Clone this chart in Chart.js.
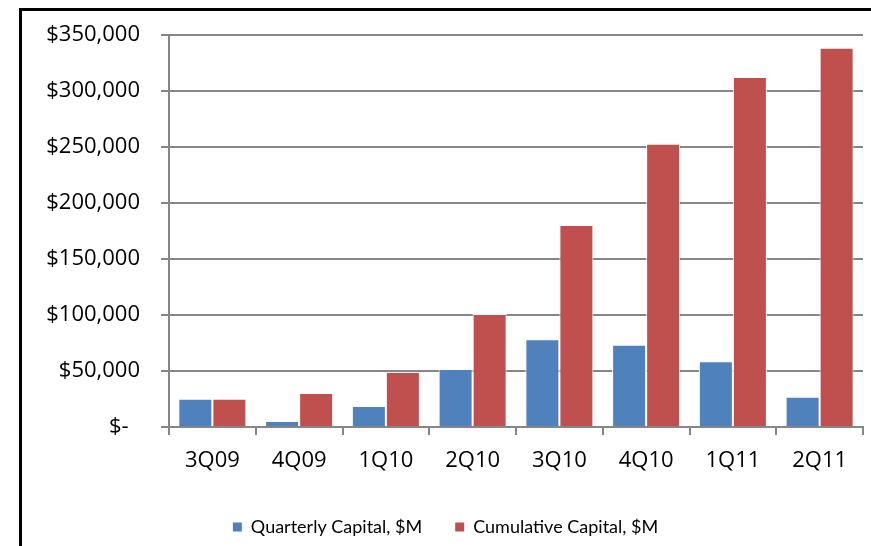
<!DOCTYPE html>
<html>
<head>
<meta charset="utf-8">
<script src="https://cdn.jsdelivr.net/npm/chart.js@4.4.1/dist/chart.umd.min.js"></script>
<style>
  html, body { margin: 0; padding: 0; background: #fff; }
  #wrap { position: relative; width: 871px; height: 546px; overflow: hidden; }
  #frame { position: absolute; left: 19px; top: 8px; width: 900px; height: 600px;
           border-left: 3px solid #000; border-top: 3px solid #000; pointer-events: none; }
</style>
</head>
<body>
<div id="wrap">
  <canvas id="chartCapital" width="871" height="546"></canvas>
  <div id="frame"></div>
</div>
<script>
const quarters = ["3Q09", "4Q09", "1Q10", "2Q10", "3Q10", "4Q10", "1Q11", "2Q11"];
const quarterlyCapital = [25300, 5400, 18800, 51800, 78400, 73400, 58600, 26900];
const cumulativeCapital = [25300, 30400, 49200, 101000, 180300, 253000, 312400, 338600];
const seriesNames = ["Quarterly Capital, $M", "Cumulative Capital, $M"];

const TICK_FONT = "'Open Sans'";
const LEGEND_FONT = "Lato";

const data = {
  labels: quarters,
  datasets: [
    {
      label: seriesNames[0],
      data: quarterlyCapital,
      backgroundColor: "#4F81BD",
      borderColor: "#ffffff",
      borderWidth: 1,
    },
    {
      label: seriesNames[1],
      data: cumulativeCapital,
      backgroundColor: "#C0504D",
      borderColor: "#ffffff",
      borderWidth: 1,
    },
  ],
};

const config = {
  type: "bar",
  data,
  options: {
    responsive: false,
    animation: false,
    devicePixelRatio: 1,
    layout: { padding: { top: 35, right: 8, bottom: 0, left: 28 } },
    datasets: {
      bar: { categoryPercentage: 0.784, barPercentage: 1.0 },
    },
    plugins: {
      tooltip: { enabled: false },
      legend: {
        position: "bottom",
        labels: {
          boxWidth: 9,
          boxHeight: 9,
          padding: 10,
          color: "#000",
          font: { family: LEGEND_FONT, size: 18 },
          generateLabels: (chart) => {
            const items = Chart.defaults.plugins.legend.labels.generateLabels(chart);
            items.forEach((it, i) => {
              it.lineWidth = 0;
              if (i === 0) it.text = it.text + "\u00A0\u00A0\u00A0\u00A0\u00A0";
            });
            return items;
          },
        },
      },
    },
    scales: {
      x: {
        afterFit: (scale) => { scale.height = 81; },
        grid: {
          offset: true,
          drawOnChartArea: false,
          color: "#868686",
          lineWidth: 2,
          tickLength: 8,
        },
        border: { color: "#868686", width: 2 },
        ticks: {
          color: "#000",
          padding: 13,
          font: { family: TICK_FONT, size: 22 },
        },
      },
      y: {
        min: 0,
        max: 350000,
        afterFit: (scale) => { scale.width = 169 - 28; },
        grid: {
          color: "#868686",
          lineWidth: 2,
          tickLength: 8,
        },
        border: { color: "#868686", width: 2 },
        ticks: {
          stepSize: 50000,
          color: "#000",
          padding: 21,
          font: { family: TICK_FONT, size: 22 },
          callback: (v) => v === 0 ? "$-\u00A0\u00A0" : "$" + v.toLocaleString("en-US"),
        },
      },
    },
  },
};

const chartCapital = new Chart(document.getElementById("chartCapital"), config);
</script>
</body>
</html>
